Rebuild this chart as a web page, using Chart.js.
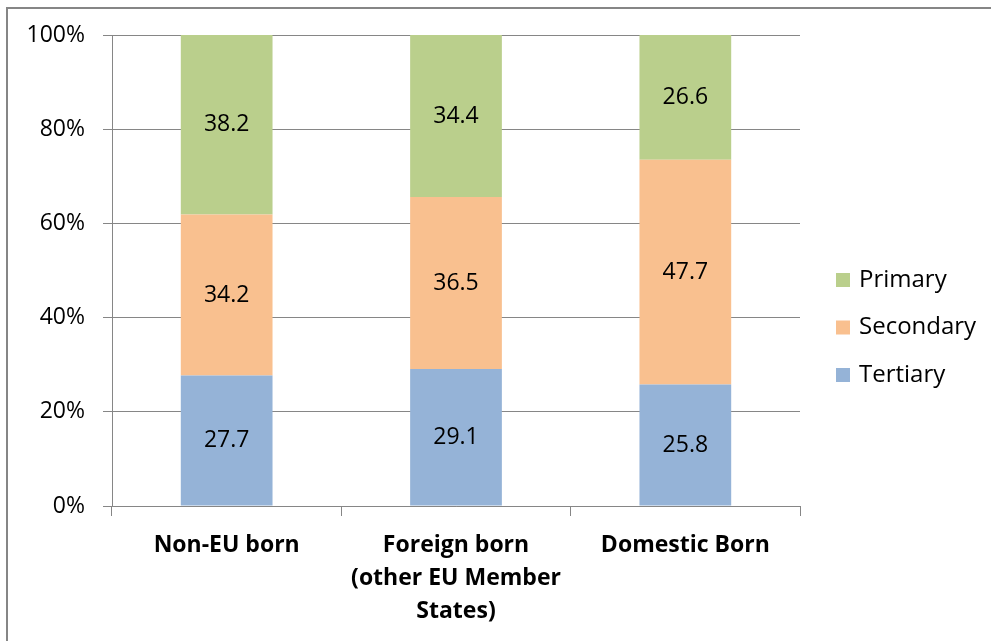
<!DOCTYPE html>
<html>
<head>
<meta charset="utf-8">
<script src="https://cdn.jsdelivr.net/npm/chart.js@4/dist/chart.umd.min.js"></script>
<style>
  html, body { margin: 0; padding: 0; background: #fff; }
  #wrap { position: relative; width: 991px; height: 641px; }
  #frame { position: absolute; left: 6px; top: 7px; right: 0; bottom: 0;
           border-top: 2px solid #868686; border-left: 2px solid #868686; pointer-events: none; }
  canvas { position: absolute; left: 0; top: 0; }
</style>
</head>
<body>
<div id="wrap">
  <canvas id="chart" width="991" height="641"></canvas>
  <div id="frame"></div>
</div>
<script>
const categories = [
  "Non-EU born",
  ["Foreign born", "(other EU Member", "States)"],
  "Domestic Born"
];
const tertiary = [27.7, 29.1, 25.8];
const secondary = [34.2, 36.5, 47.7];
const primary = [38.2, 34.4, 26.6];
const yTicks = [0, 20, 40, 60, 80, 100];

const FONT = "'Open Sans', sans-serif";
const GRID = "#868686";

// value labels in the middle of each segment
const segmentLabels = {
  id: "segmentLabels",
  afterDatasetsDraw(chart) {
    const ctx = chart.ctx;
    ctx.save();
    ctx.font = "23px " + FONT;
    ctx.fillStyle = "#000";
    ctx.textAlign = "center";
    ctx.textBaseline = "middle";
    chart.data.datasets.forEach((ds, i) => {
      chart.getDatasetMeta(i).data.forEach((bar, j) => {
        const p = bar.getProps(["x", "y", "base"], true);
        ctx.fillText(ds.data[j].toFixed(1), p.x, (p.y + p.base) / 2);
      });
    });
    ctx.restore();
  }
};

// legend on the right, Primary on top
const sideLegend = {
  id: "sideLegend",
  afterDraw(chart) {
    const ctx = chart.ctx;
    const items = chart.data.datasets.slice().reverse();
    const x = 836, y0 = 280, step = 47.5, box = 14;
    ctx.save();
    ctx.font = "24px " + FONT;
    ctx.textBaseline = "middle";
    ctx.textAlign = "left";
    items.forEach((ds, k) => {
      const y = y0 + k * step;
      ctx.fillStyle = ds.backgroundColor;
      ctx.fillRect(x, y - box / 2, box, box);
      ctx.fillStyle = "#000";
      ctx.fillText(ds.label, x + box + 9, y);
    });
    ctx.restore();
  }
};

new Chart(document.getElementById("chart"), {
  type: "bar",
  data: {
    labels: categories,
    datasets: [
      { label: "Tertiary", data: tertiary, backgroundColor: "#95B3D7" },
      { label: "Secondary", data: secondary, backgroundColor: "#F9C08F" },
      { label: "Primary", data: primary, backgroundColor: "#BACF8C" }
    ]
  },
  plugins: [segmentLabels, sideLegend],
  options: {
    responsive: false,
    animation: false,
    layout: { padding: { top: 35, right: 191, bottom: 0, left: 0 } },
    datasets: { bar: { categoryPercentage: 1, barPercentage: 0.4 } },
    plugins: { legend: { display: false }, tooltip: { enabled: false } },
    scales: {
      x: {
        stacked: true,
        grid: { drawOnChartArea: false, drawTicks: true, tickLength: 10, color: GRID },
        border: { color: GRID },
        ticks: { color: "#000", padding: 13, font: { family: FONT, size: 23, weight: "bold", lineHeight: 1.44 } },
        afterFit(scale) { scale.height = 135; }
      },
      y: {
        stacked: true,
        min: 0,
        max: 100,
        afterBuildTicks(scale) { scale.ticks = yTicks.map(v => ({ value: v })); },
        grid: { color: GRID, tickLength: 9 },
        border: { color: GRID },
        ticks: { color: "#000", padding: 18, font: { family: FONT, size: 23 }, callback: v => v + "%" },
        afterFit(scale) { scale.width = 112; }
      }
    }
  }
});
</script>
</body>
</html>
